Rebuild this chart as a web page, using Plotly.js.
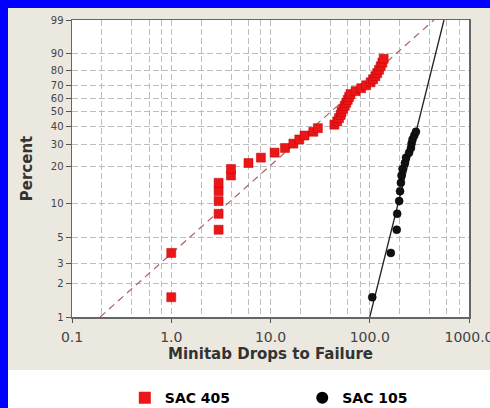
<!DOCTYPE html>
<html><head><meta charset="utf-8">
<script src="https://cdn.plot.ly/plotly-3.0.1.min.js"></script>
<style>
html,body{margin:0;padding:0;}
body{width:490px;height:408px;background:#0000ff;position:relative;overflow:hidden;}
#beige{position:absolute;left:8px;top:8px;width:482px;height:362px;background:#ebe8df;}
#white{position:absolute;left:8px;top:370px;width:482px;height:38px;background:#ffffff;}
#chart{position:absolute;left:0;top:0;width:490px;height:408px;}
</style></head><body>
<div id="beige"></div><div id="white"></div><div id="chart"></div>
<script>
// SAC 405 (red squares): drops to failure and median-rank percent
const sac405Drops = [1.0, 1.0, 3.0, 3.0, 3.0, 3.0, 3.0, 4.0, 4.0, 6.0, 8.0, 11.0, 14.0, 17.0, 19.5, 22.0, 27.0, 30.0,
  44.0, 47.0, 49.0, 51.0, 52.0, 54.0, 56.0, 58.0, 60.0, 62.0, 64.0, 72.0, 82.0, 92.0, 102.0, 108.0, 114.0, 119.0, 124.0, 129.0, 134.0, 138.0];
const sac405Pct = [1.5, 3.7, 5.9, 8.1, 10.4, 12.6, 14.8, 17.0, 19.2, 21.4, 23.6, 25.8, 28.0, 30.2, 32.4, 34.6, 36.8, 39.0,
  41.2, 43.4, 45.6, 47.8, 50.0, 52.2, 54.4, 56.6, 58.8, 61.0, 63.2, 65.4, 67.6, 69.8, 72.0, 74.2, 76.4, 78.6, 80.8, 83.0, 85.2, 87.4];
// SAC 105 (black circles)
const sac105Drops = [106, 163, 187, 189, 198, 202, 206, 209, 214, 226, 232, 249, 260, 264, 270, 281, 292];
const sac105Pct = [1.5, 3.7, 5.9, 8.1, 10.4, 12.6, 14.8, 17.0, 19.2, 21.4, 23.6, 25.8, 28.0, 30.2, 32.4, 34.6, 36.8];
// fitted Weibull lines (end points)
const fit405Drops = [0.192, 443];
const fit405Pct = [1, 99];
const fit105Drops = [100, 560];
const fit105Pct = [1, 99];
// axis ticks
const xTickVals = [0.1, 1, 10, 100, 1000];
const xTickText = ['0.1', '1.0', '10.0', '100.0', '1000.0'];
const xGridVals = [0.2, 0.4, 0.6, 0.8, 2, 4, 6, 8, 20, 40, 60, 80, 200, 400, 600, 800];
const yTickPct = [1, 2, 3, 5, 10, 20, 30, 40, 50, 60, 70, 80, 90, 99];
const yTickText = ['1', '2', '3', '5', '10', '20', '30', '40', '50', '60', '70', '80', '90', '99'];
const seriesNames = ['SAC 405', 'SAC 105'];

// Weibull probability scale
const wb = p => Math.log(-Math.log(1 - p / 100));

const font = 'DejaVu Sans, Verdana, sans-serif';
const gridColor = '#bdbdbd';
const redFill = '#ec1518', blackFill = '#111';

const traces = [
  {x: fit405Drops, y: fit405Pct.map(wb), mode: 'lines', showlegend: false, hoverinfo: 'skip',
   line: {color: 'rgb(170,95,95)', width: 1.2, dash: '7px,5px'}},
  {x: fit105Drops, y: fit105Pct.map(wb), mode: 'lines', showlegend: false, hoverinfo: 'skip',
   line: {color: '#222', width: 1.3}},
  {x: sac405Drops, y: sac405Pct.map(wb), mode: 'markers', name: seriesNames[0], showlegend: false,
   marker: {symbol: 'square', size: 9, color: redFill, line: {color: '#c00000', width: 0.5}}},
  {x: sac105Drops, y: sac105Pct.map(wb), mode: 'markers', name: seriesNames[1], showlegend: false,
   marker: {symbol: 'circle', size: 8, color: blackFill, line: {color: '#000', width: 0.5}}},
  // legend entries (larger symbols, as in the reference key)
  {x: [null], y: [null], mode: 'markers', name: seriesNames[0], legend: 'legend',
   marker: {symbol: 'square', size: 12, color: redFill}},
  {x: [null], y: [null], mode: 'markers', name: seriesNames[1], legend: 'legend2',
   marker: {symbol: 'circle', size: 12, color: '#000'}}
];

const legendFont = {family: font, size: 14, color: '#000', weight: 'bold'};
const layout = {
  width: 490, height: 408,
  margin: {l: 72, r: 21, t: 20, b: 91, autoexpand: false},
  paper_bgcolor: 'rgba(0,0,0,0)', plot_bgcolor: '#ffffff',
  showlegend: true,
  legend: {orientation: 'h', x: 0.133, xanchor: 'left', y: -0.273, yanchor: 'middle',
    font: legendFont, bgcolor: 'rgba(0,0,0,0)'},
  legend2: {orientation: 'h', x: 0.58, xanchor: 'left', y: -0.273, yanchor: 'middle',
    font: legendFont, bgcolor: 'rgba(0,0,0,0)'},
  xaxis: {type: 'log', range: [-1, 3], tickmode: 'array', tickvals: xTickVals, ticktext: xTickText,
    ticks: 'outside', ticklen: 4, tickcolor: '#555', showgrid: true, gridcolor: gridColor, griddash: '6px,3px', gridwidth: 1,
    showline: true, linecolor: '#666', linewidth: 1.5, mirror: true, zeroline: false,
    ticklabeloverflow: 'allow', ticklabelstandoff: 3,
    tickfont: {family: font, size: 14, color: '#444'},
    title: {text: 'Minitab Drops to Failure', font: {family: font, size: 15, color: '#333', weight: 'bold'}, standoff: 4},
    minor: {tickmode: 'array', tickvals: xGridVals, showgrid: true, gridcolor: gridColor, griddash: '6px,3px', gridwidth: 1, ticks: ''}},
  yaxis: {range: [wb(1), wb(99)], tickmode: 'array', tickvals: yTickPct.map(wb), ticktext: yTickText,
    ticks: 'outside', ticklen: 5, tickcolor: '#555', showgrid: true, gridcolor: gridColor, griddash: '6px,3px', gridwidth: 1,
    showline: true, linecolor: '#666', linewidth: 1.5, mirror: true, zeroline: false,
    tickfont: {family: font, size: 10, color: '#444'},
    title: {text: 'Percent', font: {family: font, size: 15, color: '#333', weight: 'bold'}, standoff: 14}}
};

Plotly.newPlot('chart', traces, layout, {displayModeBar: false, staticPlot: true});
</script></body></html>
